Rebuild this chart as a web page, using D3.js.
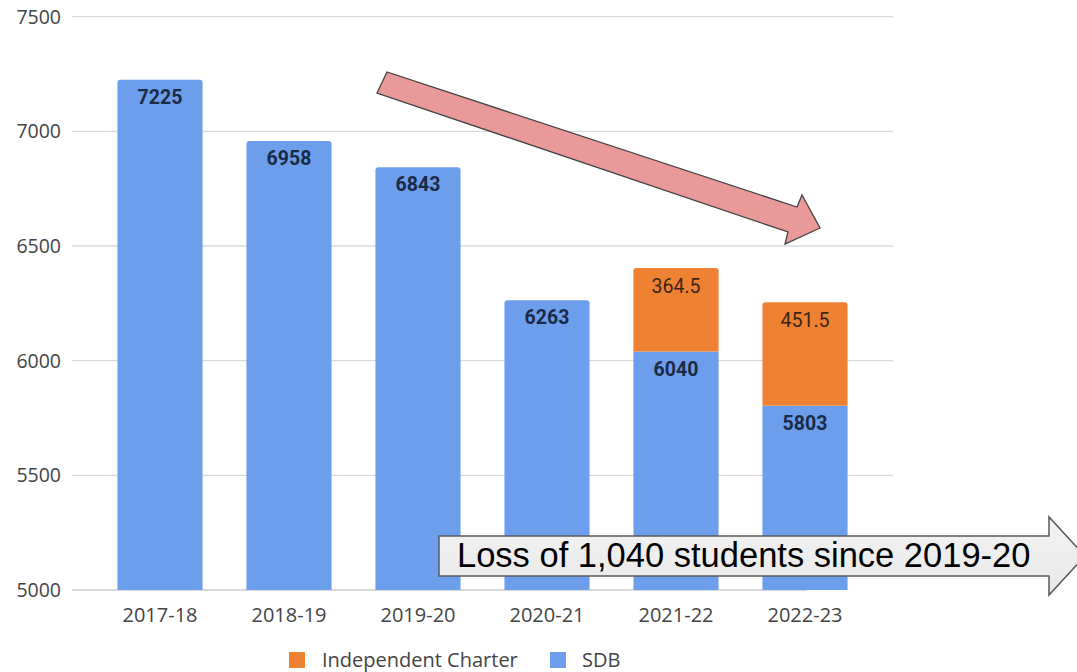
<!DOCTYPE html>
<html><head><meta charset="utf-8">
<script src="https://cdn.jsdelivr.net/npm/d3@7"></script>
<style>body{margin:0;background:#fff;}svg{display:block;}</style>
</head><body>
<svg id="c" width="1077" height="672"></svg>
<script>
const years = ["2017-18","2018-19","2019-20","2020-21","2021-22","2022-23"];
const sdb = [7225,6958,6843,6263,6040,5803];
const charter = [0,0,0,0,364.5,451.5];
const charterLabels = ["","","","","364.5","451.5"];
const yTicks = [5000,5500,6000,6500,7000,7500];
const seriesNames = ["Independent Charter","SDB"];
const seriesColors = ["#ef8133","#6d9eeb"];
const calloutText = "Loss of 1,040 students since 2019-20";

const svg = d3.select("#c");
const x = d3.scaleBand().domain(years).range([95.5,869.5]).paddingInner(0.34).paddingOuter(0.17);
const y = d3.scaleLinear().domain([5000,7500]).range([590,16.7]);

// gridlines
svg.append("g").selectAll("line").data(yTicks.filter(d=>d>5000)).join("line")
  .attr("x1",72).attr("x2",893).attr("y1",d=>y(d)).attr("y2",d=>y(d))
  .attr("stroke","#d9d9d9").attr("stroke-width",1.3);
svg.append("line").attr("x1",72).attr("x2",807).attr("y1",y(5000)).attr("y2",y(5000))
  .attr("stroke","#cccccc").attr("stroke-width",1.3);

// y tick labels
svg.append("g").selectAll("text").data(yTicks).join("text")
  .attr("x",61).attr("y",d=>y(d)).attr("dy","0.35em").attr("text-anchor","end")
  .attr("font-family","Open Sans").attr("font-size",19.5).attr("fill","#444")
  .text(d=>d);

// x tick labels
svg.append("g").selectAll("text").data(years).join("text")
  .attr("x",d=>x(d)+x.bandwidth()/2).attr("y",622).attr("text-anchor","middle")
  .attr("font-family","Open Sans").attr("font-size",20).attr("fill","#444")
  .text(d=>d);

function topRounded(x0,y0,w,h,r){
  return `M${x0},${y0+h}V${y0+r}Q${x0},${y0} ${x0+r},${y0}H${x0+w-r}Q${x0+w},${y0} ${x0+w},${y0+r}V${y0+h}Z`;
}

const bw = x.bandwidth();
years.forEach((yr,i)=>{
  const x0 = x(yr);
  const sTop = y(sdb[i]);
  const hasC = charter[i]>0;
  if(hasC){
    svg.append("rect").attr("x",x0).attr("y",sTop).attr("width",bw).attr("height",y(5000)-sTop).attr("fill",seriesColors[1]);
    const cTop = y(sdb[i]+charter[i]);
    svg.append("path").attr("d",topRounded(x0,cTop,bw,sTop-cTop,3)).attr("fill",seriesColors[0]);
    svg.append("text").attr("x",x0+bw/2).attr("y",cTop+25).attr("text-anchor","middle")
      .attr("font-family","Roboto").attr("font-size",19.5).attr("fill","#3a2616").text(charterLabels[i]);
  } else {
    svg.append("path").attr("d",topRounded(x0,sTop,bw,y(5000)-sTop,3)).attr("fill",seriesColors[1]);
  }
  svg.append("text").attr("x",x0+bw/2).attr("y",sTop+24).attr("text-anchor","middle")
    .attr("font-family","Roboto").attr("font-weight","bold").attr("font-size",19.5).attr("fill","#1b2a47").text(sdb[i]);
});

// legend
const leg = [{n:seriesNames[0],c:seriesColors[0],sx:289,tx:322},{n:seriesNames[1],c:seriesColors[1],sx:550,tx:582}];
leg.forEach(l=>{
  svg.append("rect").attr("x",l.sx).attr("y",652).attr("width",16).attr("height",16).attr("fill",l.c);
  svg.append("text").attr("x",l.tx).attr("y",667).attr("font-family","Open Sans").attr("font-size",20).attr("fill","#444").text(l.n);
});

// pink arrow
svg.append("polygon")
  .attr("points","377,93 387,72 797,207 802,195 820,228 785,244 788,232")
  .attr("fill","#ea9999").attr("stroke","#434343").attr("stroke-width",1.3).attr("stroke-linejoin","miter");

// callout arrow
const grad = svg.append("defs").append("linearGradient").attr("id","g").attr("x1",0).attr("y1",0).attr("x2",0).attr("y2",1);
grad.append("stop").attr("offset",0).attr("stop-color","#f3f3f3");
grad.append("stop").attr("offset",1).attr("stop-color","#e8e8e8");
svg.append("polygon")
  .attr("points","439,536 1049,536 1049,517 1085,556 1049,595 1049,576 439,576")
  .attr("fill","url(#g)").attr("stroke","#595959").attr("stroke-width",1.5);
svg.append("text").attr("x",457).attr("y",567).attr("font-family","Liberation Sans, Arial").attr("font-size",34.5).attr("fill","#000").text(calloutText);
</script>
</body></html>
